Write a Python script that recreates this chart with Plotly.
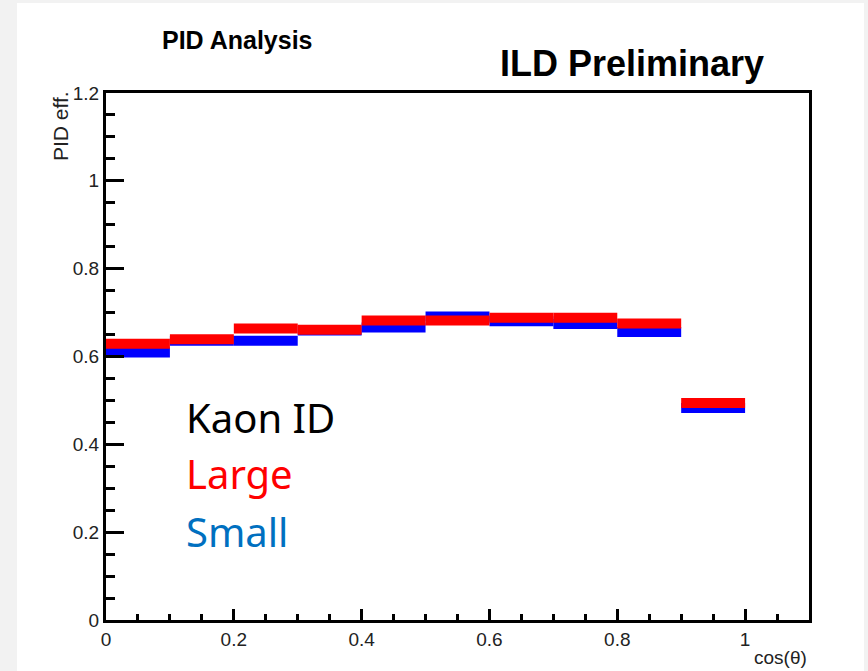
import plotly.graph_objects as go

# cos(theta) bin edges (width 0.1) and PID efficiency per bin
bin_lo = [0.0, 0.1, 0.2, 0.3, 0.4, 0.5, 0.6, 0.7, 0.8, 0.9]
bin_hi = [0.1, 0.2, 0.3, 0.4, 0.5, 0.6, 0.7, 0.8, 0.9, 1.0]
eff_large = [0.629, 0.639, 0.664, 0.661, 0.682, 0.682, 0.688, 0.688, 0.675, 0.494]
eff_small = [0.609, 0.636, 0.636, 0.659, 0.666, 0.691, 0.680, 0.674, 0.656, 0.483]

x_ticks = [0, 0.2, 0.4, 0.6, 0.8, 1.0]
y_ticks = [0, 0.2, 0.4, 0.6, 0.8, 1.0, 1.2]

W, H = 868, 671
L, R, T, B = 106, 59, 93, 51
PW, PH = W - L - R, H - T - B


def px(xpix):
    return (xpix - L) / PW


def py(ypix):
    return (H - B - ypix) / PH


def segments(lo, hi, vals):
    xs, ys = [], []
    for a, b, v in zip(lo, hi, vals):
        xs += [a, b, None]
        ys += [v, v, None]
    return xs, ys


fig = go.Figure()
for vals, col in ((eff_small, "#0000ff"), (eff_large, "#ff0000")):
    xs, ys = segments(bin_lo, bin_hi, vals)
    fig.add_trace(go.Scatter(x=xs, y=ys, mode="lines",
                             line=dict(color=col, width=10),
                             connectgaps=False, showlegend=False,
                             hoverinfo="skip"))

axis_common = dict(showgrid=False, zeroline=False, showline=True,
                   linecolor="black", linewidth=3, mirror=True,
                   ticks="inside", tickcolor="black", tickwidth=3,
                   tickfont=dict(family="Liberation Sans", size=19, color="#222"))

fig.update_xaxes(range=[0, 1.1], tickvals=x_ticks, ticklen=11,
                 minor=dict(dtick=0.05, ticklen=6, tickwidth=3,
                            tickcolor="black", ticks="inside"),
                 **axis_common)
fig.update_yaxes(range=[0, 1.2], tickvals=y_ticks, ticklen=18,
                 minor=dict(dtick=0.05, ticklen=9, tickwidth=3,
                            tickcolor="black", ticks="inside"),
                 **axis_common)

# white canvas on a light grey surround
fig.add_shape(type="rect", xref="paper", yref="paper", layer="below",
              x0=px(17), x1=px(864), y0=py(671), y1=py(3),
              fillcolor="white", line=dict(width=0))

ann = []
ann.append(dict(text="<b>PID Analysis</b>", x=px(237), y=py(40),
                font=dict(family="Liberation Sans", size=25, color="black")))
ann.append(dict(text="<b>ILD Preliminary</b>", x=px(632), y=py(63),
                font=dict(family="Liberation Sans", size=36, color="black")))
ann.append(dict(text="PID eff.", x=px(60), y=py(89), textangle=-90,
                yanchor="top",
                font=dict(family="Liberation Sans", size=21, color="#222")))
ann.append(dict(text="cos(θ)", x=px(809), y=py(657), xanchor="right",
                font=dict(family="Liberation Sans", size=19, color="#222")))
for txt, col, yc in (("Kaon ID", "black", 417), ("Large", "#ff0000", 474),
                     ("Small", "#0070c0", 531)):
    ann.append(dict(text=txt, x=px(184), y=py(yc), xanchor="left",
                    font=dict(family="Noto Sans", size=40, color=col)))
for a in ann:
    a.update(xref="paper", yref="paper", showarrow=False)
    a.setdefault("xanchor", "center")
    a.setdefault("yanchor", "middle")

fig.update_layout(width=W, height=H, margin=dict(l=L, r=R, t=T, b=B),
                  paper_bgcolor="#f2f2f2", plot_bgcolor="white",
                  annotations=ann)

fig.write_html("out.html")
